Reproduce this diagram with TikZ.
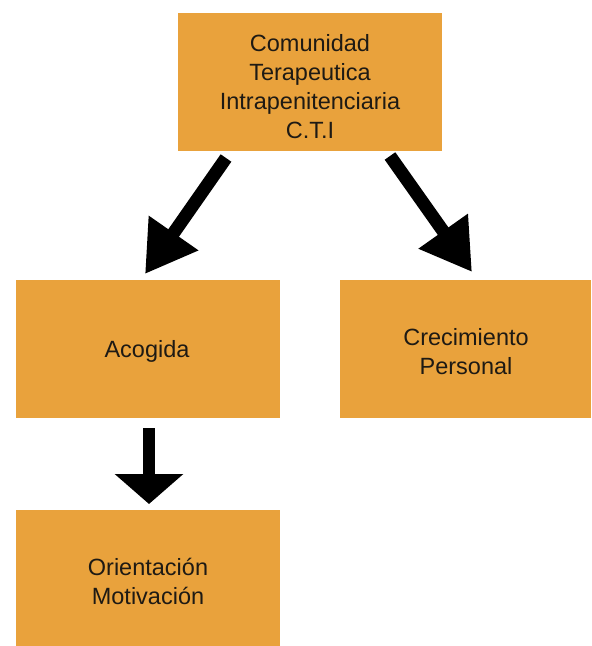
\documentclass[tikz,border=0pt]{standalone}
\usepackage{fontspec}
\setmainfont{Liberation Sans}
\usetikzlibrary{arrows.meta}
\definecolor{boxorange}{HTML}{E9A23C}
\definecolor{txt}{HTML}{1E1A14}
\tikzset{
  boxfill/.style={fill=boxorange, draw=none},
  boxtext/.style={text=txt, align=center, inner sep=0pt,
    font=\fontsize{23.5}{29}\selectfont},
  bigarrow/.style={draw=black, line width=13pt, -{Triangle[length=50pt,width=57pt]}},
  downarrow/.style={draw=black, line width=12pt, -{Triangle[length=30pt,width=67pt]}}
}
\begin{document}
\begin{tikzpicture}[x=1pt,y=-1pt]
\useasboundingbox (0,0) rectangle (592,646);
\fill[boxfill] (178,13) rectangle (442,151);
\fill[boxfill] (16,280) rectangle (280,418);
\fill[boxfill] (340,280) rectangle (591,418);
\fill[boxfill] (16,510) rectangle (280,646);
\node[boxtext] (cti) at (310,87) {Comunidad\\Terapeutica\\Intrapenitenciaria\\C.T.I};
\node[boxtext] (acogida) at (147,351) {Acogida};
\node[boxtext] (crec) at (466,352) {Crecimiento\\Personal};
\node[boxtext] (orient) at (148,581) {Orientación\\Motivación};
\coordinate (l1) at (226,158);
\coordinate (l2) at (145,274);
\coordinate (r1) at (390,156);
\coordinate (r2) at (472,272);
\coordinate (d1) at (149,428);
\coordinate (d2) at (149,504);
\draw[bigarrow] (l1) -- (l2);
\draw[bigarrow] (r1) -- (r2);
\draw[downarrow] (d1) -- (d2);
\end{tikzpicture}
\end{document}
